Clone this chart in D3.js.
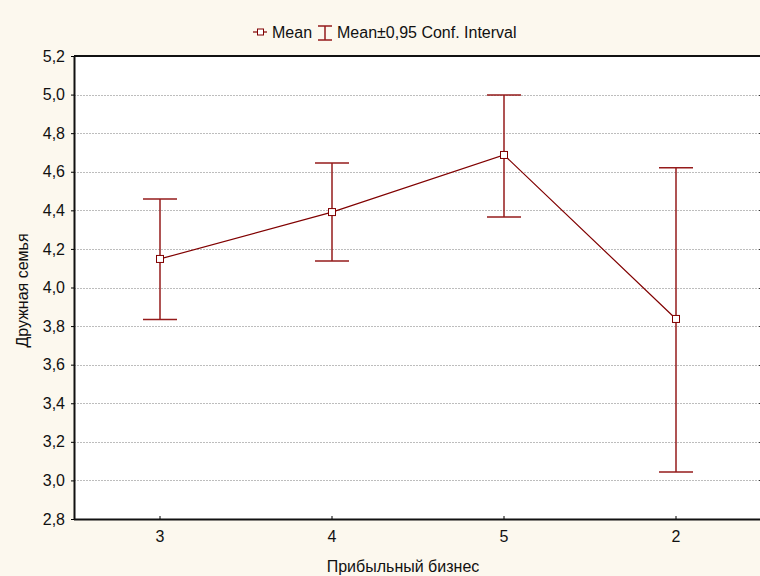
<!DOCTYPE html>
<html>
<head>
<meta charset="utf-8">
<script src="https://cdn.jsdelivr.net/npm/d3@7"></script>
<style>
  body { margin: 0; background: #fcf8ee; overflow: hidden; }
  svg { display: block; font-family: "Liberation Sans", Arial, sans-serif; }
</style>
</head>
<body>
<script>
const categories = ['3', '4', '5', '2'];
const means = [4.148, 4.391, 4.687, 3.837];
const lower = [3.834, 4.137, 4.365, 3.043];
const upper = [4.459, 4.645, 4.998, 4.621];
const yTicks = [2.8, 3.0, 3.2, 3.4, 3.6, 3.8, 4.0, 4.2, 4.4, 4.6, 4.8, 5.0, 5.2];

const width = 760;
const height = 576;
const margin = { top: 56, right: -2, bottom: 57, left: 74 };
const lineColor = '#800000';
const barColor = '#951b1b';
const fontSize = 16;

const data = categories.map((c, i) => ({ c, mean: means[i], lo: lower[i], hi: upper[i] }));
const fmt = v => d3.format('.1f')(v).replace('.', ',');

const svg = d3.select('body')
  .append('svg')
  .attr('width', width)
  .attr('height', height);

const x = d3.scaleBand()
  .domain(categories)
  .range([margin.left, width - margin.right]);

const y = d3.scaleLinear()
  .domain([2.8, 5.2])
  .range([height - margin.bottom, margin.top]);

const cx = d => x(d.c) + x.bandwidth() / 2;

// plot area
svg.append('rect')
  .attr('x', margin.left)
  .attr('y', margin.top)
  .attr('width', width - margin.left)
  .attr('height', y.range()[0] - margin.top)
  .attr('fill', '#fff');

// grid
svg.append('g')
  .selectAll('line')
  .data(yTicks.slice(1, -1))
  .join('line')
  .attr('x1', margin.left)
  .attr('x2', width)
  .attr('y1', d => Math.round(y(d)) + 0.5)
  .attr('y2', d => Math.round(y(d)) + 0.5)
  .attr('stroke', '#bdbdbd')
  .attr('stroke-dasharray', '2,1');

// small ticks on the right edge
svg.append('g')
  .selectAll('line')
  .data(yTicks)
  .join('line')
  .attr('x1', width - 1)
  .attr('x2', width)
  .attr('y1', d => Math.round(y(d)) + 0.5)
  .attr('y2', d => Math.round(y(d)) + 0.5)
  .attr('stroke', '#333');

// axes
const styleText = g => g.selectAll('text')
  .attr('font-size', fontSize)
  .attr('font-family', '"Liberation Sans", Arial, sans-serif')
  .attr('fill', '#111');

const yAxis = d3.axisLeft(y).tickValues(yTicks).tickFormat(fmt).tickSize(3).tickSizeOuter(0).tickPadding(6);
const xAxis = d3.axisBottom(x).tickSize(-3).tickSizeOuter(0).tickPadding(12);

svg.append('g')
  .attr('transform', `translate(${margin.left},0)`)
  .call(yAxis)
  .call(g => g.select('.domain').attr('stroke-width', 2))
  .call(styleText);

svg.append('g')
  .attr('transform', `translate(0,${y.range()[0]})`)
  .call(xAxis)
  .call(g => g.select('.domain').attr('d', `M${margin.left},0.5H${width}`).attr('stroke-width', 2))
  .call(styleText);

svg.append('line')
  .attr('x1', margin.left)
  .attr('x2', width)
  .attr('y1', margin.top)
  .attr('y2', margin.top)
  .attr('stroke', '#111')
  .attr('stroke-width', 2);

svg.selectAll('.domain').attr('stroke', '#111');

// error bars
const eb = svg.append('g')
  .selectAll('g')
  .data(data)
  .join('g')
  .attr('stroke', barColor)
  .attr('stroke-width', 1.5);

eb.append('line')
  .attr('x1', cx).attr('x2', cx)
  .attr('y1', d => y(d.lo)).attr('y2', d => y(d.hi));
eb.append('line')
  .attr('x1', d => cx(d) - 17).attr('x2', d => cx(d) + 17)
  .attr('y1', d => y(d.hi)).attr('y2', d => y(d.hi));
eb.append('line')
  .attr('x1', d => cx(d) - 17).attr('x2', d => cx(d) + 17)
  .attr('y1', d => y(d.lo)).attr('y2', d => y(d.lo));

// mean line
svg.append('path')
  .datum(data)
  .attr('fill', 'none')
  .attr('stroke', lineColor)
  .attr('stroke-width', 1.2)
  .attr('d', d3.line().x(cx).y(d => y(d.mean)));

svg.append('g')
  .selectAll('rect')
  .data(data)
  .join('rect')
  .attr('x', d => cx(d) - 3.5)
  .attr('y', d => y(d.mean) - 3.5)
  .attr('width', 7)
  .attr('height', 7)
  .attr('fill', '#fff')
  .attr('stroke', lineColor)
  .attr('stroke-width', 1);

// legend
const lg = svg.append('g').attr('transform', 'translate(0,32)');
lg.append('line').attr('x1', 253).attr('x2', 267).attr('y1', 0).attr('y2', 0)
  .attr('stroke', lineColor).attr('stroke-width', 1.2);
lg.append('rect').attr('x', 257.5).attr('y', -3).attr('width', 6).attr('height', 6)
  .attr('fill', '#fff').attr('stroke', lineColor);
lg.append('text').attr('x', 272).attr('y', 6).attr('font-size', fontSize).attr('fill', '#111').text('Mean');
const li = lg.append('g').attr('stroke', barColor).attr('stroke-width', 1.5);
li.append('line').attr('x1', 318).attr('x2', 332).attr('y1', -6).attr('y2', -6);
li.append('line').attr('x1', 325).attr('x2', 325).attr('y1', -6).attr('y2', 8);
li.append('line').attr('x1', 318).attr('x2', 332).attr('y1', 8).attr('y2', 8);
lg.append('text').attr('x', 337).attr('y', 6).attr('font-size', fontSize).attr('fill', '#111')
  .text('Mean±0,95 Conf. Interval');

// titles
svg.append('text')
  .attr('x', 403)
  .attr('y', 572)
  .attr('text-anchor', 'middle')
  .attr('font-size', fontSize)
  .attr('fill', '#111')
  .text('Прибыльный бизнес');

svg.append('text')
  .attr('transform', `translate(28,${(margin.top + y.range()[0]) / 2 + 3}) rotate(-90)`)
  .attr('text-anchor', 'middle')
  .attr('font-size', fontSize)
  .attr('fill', '#111')
  .text('Дружная семья');
</script>
</body>
</html>
